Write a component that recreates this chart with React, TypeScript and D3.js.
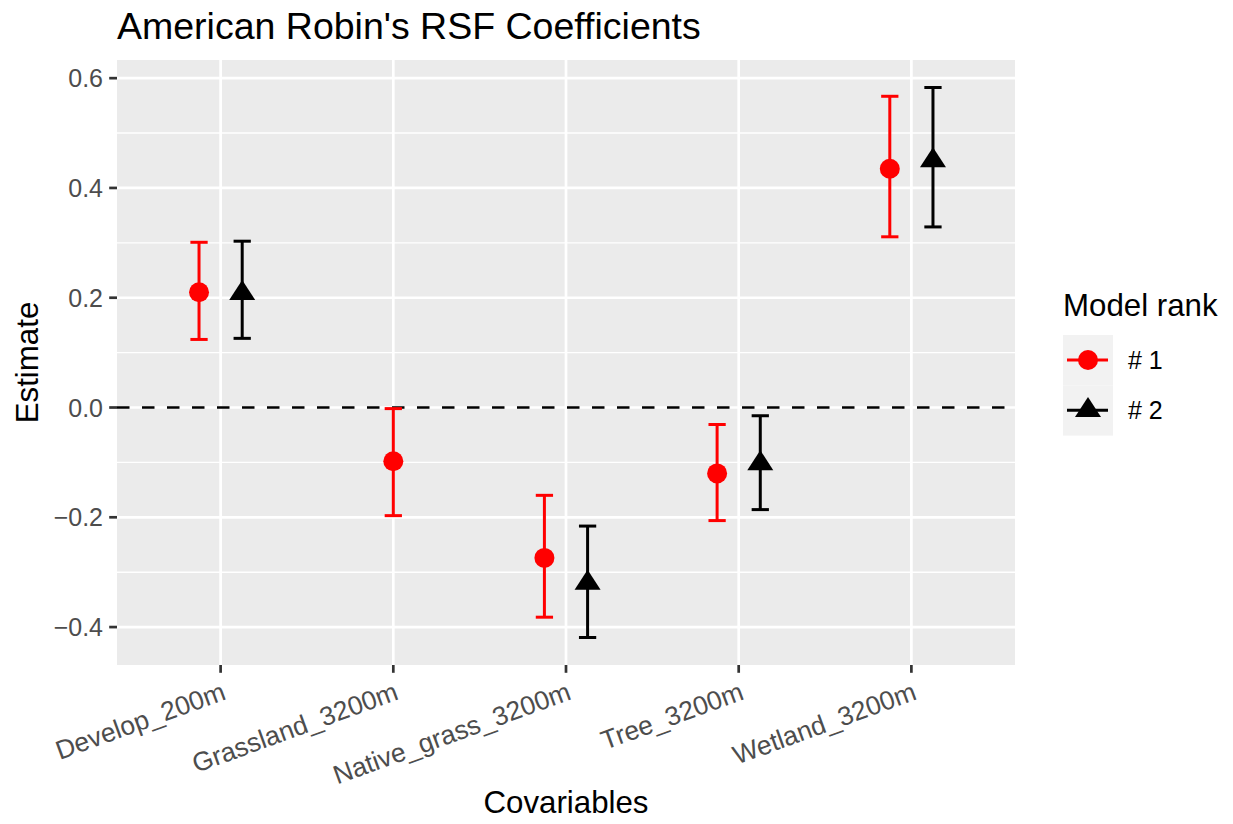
import React from "react";
import * as d3 from "d3";

const categories = ["Develop_200m", "Grassland_3200m", "Native_grass_3200m", "Tree_3200m", "Wetland_3200m"];
const rank1Est = [0.210, -0.098, -0.274, -0.120, 0.435];
const rank1Low = [0.124, -0.197, -0.382, -0.206, 0.311];
const rank1High = [0.301, -0.002, -0.160, -0.031, 0.567];
const rank2Est: (number | null)[] = [0.208, null, -0.320, -0.102, 0.450];
const rank2Low: (number | null)[] = [0.126, null, -0.419, -0.186, 0.329];
const rank2High: (number | null)[] = [0.303, null, -0.216, -0.015, 0.583];
const yTicks = [-0.4, -0.2, 0.0, 0.2, 0.4, 0.6];
const yMinor = [-0.3, -0.1, 0.1, 0.3, 0.5];
const seriesNames = ["# 1", "# 2"];
const seriesColors = ["#ff0000", "#000000"];

const W = 1233, H = 824;
const PL = 117, PR = 1015, PT = 60, PB = 665;
const FONT = "'Liberation Sans', Arial, Helvetica, sans-serif";

function Marker({ shape, x, y, color }: { shape: string; x: number; y: number; color: string }) {
  if (shape === "circle") return <circle cx={x} cy={y} r={10} fill={color} />;
  const h = 20, w = 26;
  const apex = y - (2 / 3) * h, base = y + h / 3;
  return <path d={`M${x},${apex}L${x + w / 2},${base}L${x - w / 2},${base}Z`} fill={color} />;
}

export default function App() {
  const x = d3.scalePoint<string>().domain(categories).range([PL, PR]).padding(0.6);
  const step = x.step();
  const allVals = [...rank1Low, ...rank1High, ...(rank2Low.filter((v) => v !== null) as number[]), ...(rank2High.filter((v) => v !== null) as number[])];
  const [lo, hi] = d3.extent(allVals) as [number, number];
  const pad = (hi - lo) * 0.05;
  const y = d3.scaleLinear().domain([lo - pad, hi + pad]).range([PB, PT]);

  const series = [
    { est: rank1Est as (number | null)[], low: rank1Low as (number | null)[], high: rank1High as (number | null)[], color: seriesColors[0], shape: "circle" },
    { est: rank2Est, low: rank2Low, high: rank2High, color: seriesColors[1], shape: "triangle" },
  ];

  const dodge = step * 0.125;
  const capHalf = step * 0.05;

  const marks: React.ReactNode[] = [];
  categories.forEach((c, i) => {
    const present = series.filter((s) => s.est[i] !== null);
    series.forEach((s, si) => {
      const e = s.est[i];
      if (e === null) return;
      let cx = x(c)!;
      if (present.length > 1) cx += si === 0 ? -dodge : dodge;
      const yl = y(s.low[i] as number), yh = y(s.high[i] as number);
      marks.push(
        <g key={`${c}-${si}`}>
          <line x1={cx} x2={cx} y1={yl} y2={yh} stroke={s.color} strokeWidth={3} />
          <line x1={cx - capHalf} x2={cx + capHalf} y1={yl} y2={yl} stroke={s.color} strokeWidth={3} />
          <line x1={cx - capHalf} x2={cx + capHalf} y1={yh} y2={yh} stroke={s.color} strokeWidth={3} />
          <Marker shape={s.shape} x={cx} y={y(e)} color={s.color} />
        </g>
      );
    });
  });

  return (
    <svg width={W} height={H} style={{ position: "absolute", left: 0, top: 0, background: "#fff" }} fontFamily={FONT}>
      <rect x={0} y={0} width={W} height={H} fill="#fff" />
      <text x={PL} y={39} fontSize={37.5} fill="#000">American Robin's RSF Coefficients</text>
      <rect x={PL} y={PT} width={PR - PL} height={PB - PT} fill="#ebebeb" />
      {yMinor.map((t) => (
        <line key={`ym${t}`} x1={PL} x2={PR} y1={y(t)} y2={y(t)} stroke="#fff" strokeWidth={1.4} />
      ))}
      {yTicks.map((t) => (
        <line key={`yg${t}`} x1={PL} x2={PR} y1={y(t)} y2={y(t)} stroke="#fff" strokeWidth={2.7} />
      ))}
      {categories.map((c) => (
        <line key={`xg${c}`} x1={x(c)!} x2={x(c)!} y1={PT} y2={PB} stroke="#fff" strokeWidth={2.7} />
      ))}
      <line x1={PL} x2={PR} y1={y(0)} y2={y(0)} stroke="#000" strokeWidth={2.5} strokeDasharray="12.5 12.5" />
      {marks}
      {yTicks.map((t) => (
        <g key={`yt${t}`}>
          <line x1={PL - 7.8} x2={PL} y1={y(t)} y2={y(t)} stroke="#333" strokeWidth={2.7} />
          <text x={PL - 14} y={y(t)} dy="0.36em" textAnchor="end" fontSize={25} fill="#4d4d4d">
            {d3.format(".1f")(t).replace("-", "\u2212")}
          </text>
        </g>
      ))}
      {categories.map((c) => (
        <g key={`xt${c}`}>
          <line x1={x(c)!} x2={x(c)!} y1={PB} y2={PB + 7.8} stroke="#333" strokeWidth={2.7} />
          <text transform={`translate(${x(c)},${PB + 16}) rotate(-20)`} dy="0.72em" textAnchor="end" fontSize={26.5} fill="#4d4d4d">
            {c}
          </text>
        </g>
      ))}
      <text x={(PL + PR) / 2} y={813} textAnchor="middle" fontSize={31.25} fill="#000">Covariables</text>
      <text transform={`translate(38,${(PT + PB) / 2}) rotate(-90)`} textAnchor="middle" fontSize={31.25} fill="#000">Estimate</text>
      <text x={1063} y={316} fontSize={31.25} fill="#000">Model rank</text>
      {seriesNames.map((n, i) => {
        const ky = 335 + i * 50.3;
        const cy = ky + 25;
        return (
          <g key={n}>
            <rect x={1063} y={ky} width={50} height={50.3} fill="#f2f2f2" />
            <line x1={1067} x2={1108} y1={cy} y2={cy} stroke={seriesColors[i]} strokeWidth={3} />
            <Marker shape={i === 0 ? "circle" : "triangle"} x={1088} y={cy} color={seriesColors[i]} />
            <text x={1128} y={cy} dy="0.36em" fontSize={25} fill="#000">{n}</text>
          </g>
        );
      })}
    </svg>
  );
}
